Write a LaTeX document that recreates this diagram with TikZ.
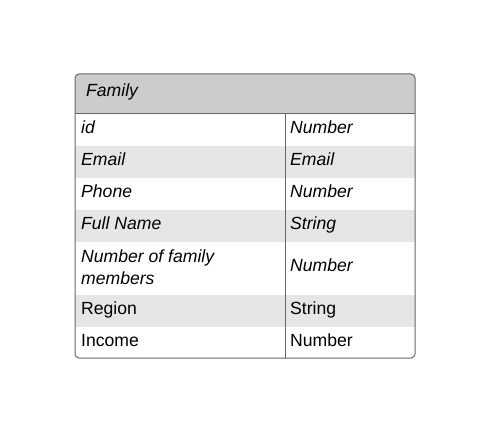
\documentclass[tikz,border=0pt]{standalone}
\usepackage{fontspec}
\setmainfont{Liberation Sans}
\definecolor{hdrgray}{HTML}{CCCCCC}
\definecolor{stripegray}{HTML}{E6E6E6}
\definecolor{bordergray}{HTML}{666666}
\begin{document}
\begin{tikzpicture}[x=1pt,y=-1pt,
  cell/.style={anchor=base west, inner sep=0pt, font=\fontsize{17.6}{22}\selectfont},
  icell/.style={cell, font=\fontsize{17.6}{22}\selectfont\itshape},
  mcell/.style={anchor=west, inner sep=0pt, align=left, font=\fontsize{17.6}{22}\selectfont\itshape},
  tableline/.style={draw=bordergray, line width=1pt}]
\useasboundingbox (0,0) rectangle (495,443);
\begin{scope}
  \clip[rounded corners=4pt] (75,74) rectangle (415,358);
  \fill[hdrgray] (75,74) rectangle (415,114);
  \fill[stripegray] (75,146) rectangle (415,178);
  \fill[stripegray] (75,210) rectangle (415,242);
  \fill[stripegray] (75,295) rectangle (415,327);
\end{scope}
\draw[tableline, rounded corners=4pt] (75,74) rectangle (415,358);
\draw[tableline] (75,114) -- (415,114);
\draw[tableline] (285,114) -- (285,358);
\node[icell] (title) at (86,97) {Family};
\node[icell] (k1) at (81,134) {id};
\node[icell] (v1) at (290,134) {Number};
\node[icell] (k2) at (81,166) {Email};
\node[icell] (v2) at (290,166) {Email};
\node[icell] (k3) at (81,198) {Phone};
\node[icell] (v3) at (290,198) {Number};
\node[icell] (k4) at (81,230) {Full Name};
\node[icell] (v4) at (290,230) {String};
\node[mcell] (k5) at (81,266.8) {Number of family\\members};
\node[icell] (v5) at (290,272) {Number};
\node[cell] (k6) at (81,315) {Region};
\node[cell] (v6) at (290,315) {String};
\node[cell] (k7) at (81,347) {Income};
\node[cell] (v7) at (290,347) {Number};
\end{tikzpicture}
\end{document}
